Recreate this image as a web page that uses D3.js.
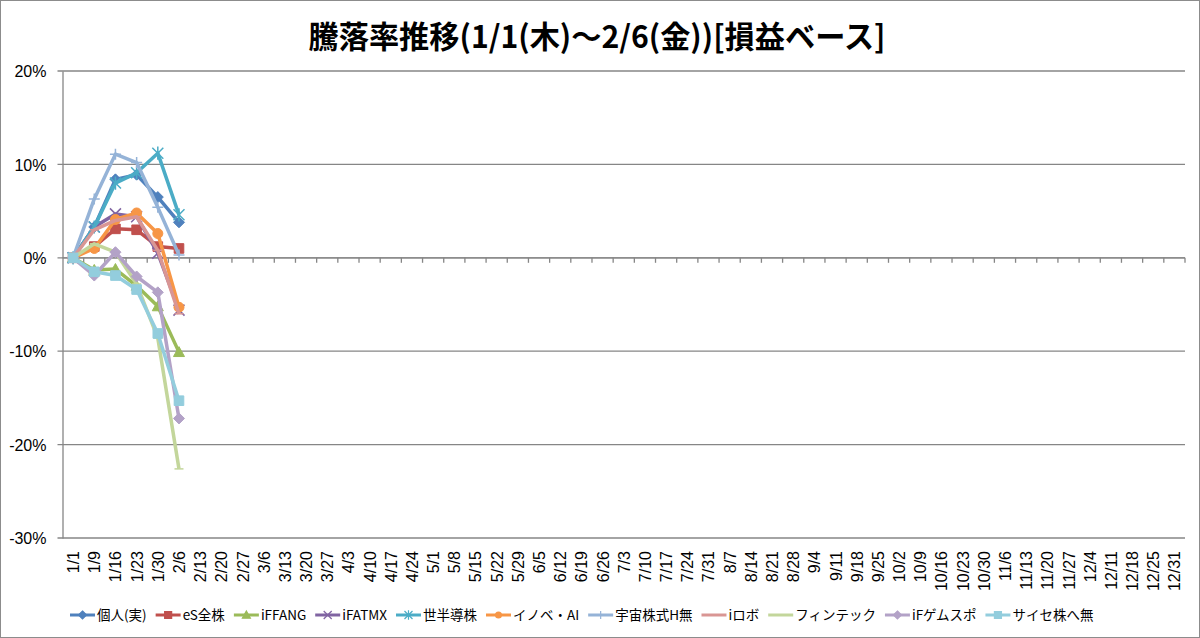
<!DOCTYPE html>
<html><head><meta charset="utf-8">
<script src="https://cdn.jsdelivr.net/npm/d3@7"></script>
<style>body{margin:0;background:#fff}svg{display:block}</style>
</head><body>
<svg id="c" width="1200" height="638"></svg>
<script>
const categories = ["1/1","1/9","1/16","1/23","1/30","2/6","2/13","2/20","2/27","3/6","3/13","3/20","3/27","4/3","4/10","4/17","4/24","5/1","5/8","5/15","5/22","5/29","6/5","6/12","6/19","6/26","7/3","7/10","7/17","7/24","7/31","8/7","8/14","8/21","8/28","9/4","9/11","9/18","9/25","10/2","10/9","10/16","10/23","10/30","11/6","11/13","11/20","11/27","12/4","12/11","12/18","12/25","12/31"];
const seriesNames = ["個人(実)","eS全株","iFFANG","iFATMX","世半導株","イノベ・AI","宇宙株式H無","iロボ","フィンテック","iFゲムスポ","サイセ株へ無"];
const kojin   = [0, 3.3, 8.4, 8.9, 6.5, 3.8];
const esZen   = [0, 1.2, 3.1, 3.0, 1.2, 1.0];
const ifFang  = [0, -1.3, -1.2, -3.0, -5.2, -10.1];
const ifAtmx  = [0, 3.3, 4.7, 4.4, 0.5, -5.6];
const sehan   = [0, 3.3, 8.0, 9.1, 11.2, 4.6];
const inobe   = [0, 1.0, 4.1, 4.8, 2.6, -5.3];
const uchu    = [0, 6.3, 11.1, 10.2, 5.4, 0.3];
const irobo   = [0, 3.0, 4.0, 4.4, 0.8, -6.0];
const fintech = [0, 1.5, 0.6, -2.8, -8.6, -22.6];
const gemusupo= [0, -1.9, 0.6, -2.0, -3.7, -17.2];
const saise   = [0, -1.5, -1.9, -3.4, -8.1, -15.3];
const yTicks  = [20, 10, 0, -10, -20, -30];

const seriesValues = [kojin, esZen, ifFang, ifAtmx, sehan, inobe, uchu, irobo, fintech, gemusupo, saise];
const colors = ["#4F81BD","#C0504D","#9BBB59","#8064A2","#4BACC6","#F79646","#95B3D7","#D99694","#C3D69B","#B3A2C7","#93CDDD"];
const markers = ["diamond","square","triangle","x","star","circle","plus","dash","dash","diamond","square"];

const svg = d3.select("#c");
const W = 1200, H = 638;
svg.append("rect").attr("x",0.5).attr("y",0.5).attr("width",W-1).attr("height",H-1)
  .attr("fill","#fff").attr("stroke","#8c8c8c").attr("stroke-width",1);

const pL = 62.5, pR = 1185, pT = 71, pB = 538;
const x = d3.scaleBand().domain(categories).range([pL, pR]);
const y = d3.scaleLinear().domain([-30, 20]).range([pB, pT]);

// title
svg.append("text").attr("x", 597).attr("y", 48).attr("text-anchor","middle")
  .attr("font-family","'Noto Sans CJK JP'").attr("font-weight","bold").attr("font-size",31)
  .attr("textLength",577).attr("lengthAdjust","spacingAndGlyphs")
  .text("騰落率推移(1/1(木)～2/6(金))[損益ベース]");

// gridlines
const grid = svg.append("g");
yTicks.forEach(t => {
  grid.append("line").attr("x1", pL-5).attr("x2", pR).attr("y1", y(t)).attr("y2", y(t))
    .attr("stroke","#868686").attr("stroke-width",1.3);
});
// y axis
const yAxis = d3.axisLeft(y).tickValues(yTicks).tickSize(0).tickFormat(d => d + "%");
const ya = svg.append("g").attr("transform",`translate(${pL},0)`).call(yAxis);
ya.select(".domain").attr("stroke","#868686").attr("stroke-width",1.3);
ya.selectAll("text").attr("font-family","'Liberation Sans', Arial").attr("font-size",16)
  .attr("fill","#000").attr("x",-16).attr("dy","0.35em");

// x axis at 0 with ticks at boundaries
const xa = svg.append("g");
xa.append("line").attr("x1",pL).attr("x2",pR).attr("y1",y(0)).attr("y2",y(0))
  .attr("stroke","#868686").attr("stroke-width",1.3);
categories.forEach((c,i) => {
  const bx = x(c) + x.bandwidth();
  xa.append("line").attr("x1",bx).attr("x2",bx).attr("y1",y(0)).attr("y2",y(0)+5)
    .attr("stroke","#868686").attr("stroke-width",1.3);
});
// x labels at bottom
categories.forEach(c => {
  const cx = x(c) + x.bandwidth()/2;
  svg.append("text").attr("transform",`translate(${cx+6},${pB+13}) rotate(-90)`)
    .attr("text-anchor","end").attr("font-family","'Liberation Sans', Arial").attr("font-size",16)
    .text(c);
});

function markerPath(type, s) {
  switch(type) {
    case "diamond": return `M0,${-s}L${s},0L0,${s}L${-s},0Z`;
    case "square": return `M${-s},${-s}H${s}V${s}H${-s}Z`;
    case "triangle": return `M0,${-s}L${s},${s*0.8}L${-s},${s*0.8}Z`;
    case "x": return `M${-s},${-s}L${s},${s}M${-s},${s}L${s},${-s}`;
    case "star": return `M${-s},${-s}L${s},${s}M${-s},${s}L${s},${-s}M0,${-s*1.2}V${s*1.2}`;
    case "plus": return `M${-s},0H${s}M0,${-s}V${s}`;
    case "dash": return `M${-s},0H${s}`;
  }
}

const line = d3.line().x((d,i) => x(categories[i]) + x.bandwidth()/2).y(d => y(d));
const plot = svg.append("g");
seriesValues.forEach((vals, k) => {
  const g = plot.append("g");
  g.append("path").datum(vals).attr("d", line).attr("fill","none")
    .attr("stroke", colors[k]).attr("stroke-width",3.5).attr("stroke-linejoin","round");
  const m = markers[k];
  const filled = ["diamond","square","triangle","circle"].includes(m);
  vals.forEach((v,i) => {
    const px = x(categories[i]) + x.bandwidth()/2, py = y(v);
    if (m === "circle") {
      g.append("circle").attr("cx",px).attr("cy",py).attr("r",5).attr("fill",colors[k]).attr("stroke",colors[k]);
    } else {
      const s = m === "square" ? 4.8 : (m === "dash" ? 4.5 : 5.5);
      g.append("path").attr("transform",`translate(${px},${py})`).attr("d", markerPath(m, s))
        .attr("fill", filled ? colors[k] : "none").attr("stroke", colors[k])
        .attr("stroke-width", filled ? 1 : 1.5);
    }
  });
});

// legend
const lg = svg.append("g").attr("transform","translate(0,615)");
let lx = 70;
seriesNames.forEach((n,k) => {
  const g = lg.append("g").attr("transform",`translate(${lx},0)`);
  g.append("line").attr("x1",0).attr("x2",25).attr("y1",0).attr("y2",0)
    .attr("stroke",colors[k]).attr("stroke-width",3);
  const m = markers[k];
  if (m === "circle") g.append("circle").attr("cx",12.5).attr("cy",0).attr("r",3.5).attr("fill",colors[k]);
  else if (m !== "dash") {
    const filled = ["diamond","square","triangle"].includes(m);
    g.append("path").attr("transform","translate(12.5,0)").attr("d",markerPath(m, m==="square"?3.5:4))
      .attr("fill", filled ? colors[k] : "none").attr("stroke",colors[k]).attr("stroke-width",1.2);
  }
  const t = g.append("text").attr("x",27).attr("y",0).attr("dy","0.35em")
    .attr("font-family","'Noto Sans CJK JP'").attr("font-size",13.5).text(n);
  lx += 27 + t.node().getComputedTextLength() + 9;
});
</script>
</body></html>
